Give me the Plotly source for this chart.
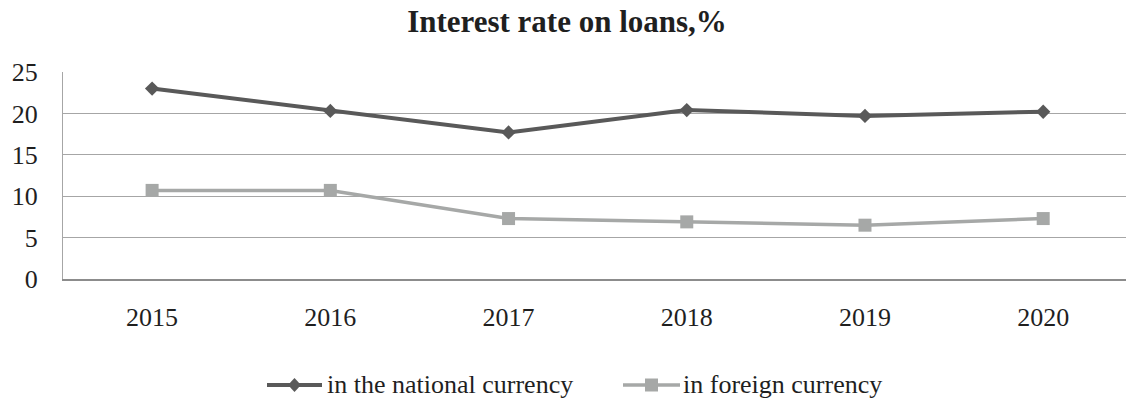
import plotly.graph_objects as go

# Loan interest rates, % per year
years = ["2015", "2016", "2017", "2018", "2019", "2020"]
national_currency = [23.0, 20.3, 17.7, 20.4, 19.7, 20.2]
foreign_currency = [10.7, 10.7, 7.3, 6.9, 6.5, 7.3]

series_names = ["in the national currency", "in foreign currency"]
series_colors = ["#595959", "#a6a8a7"]
y_ticks = [0, 5, 10, 15, 20, 25]

FONT = "Liberation Serif, Times New Roman, serif"
TEXT = "#1f1f1f"

# Figure geometry (pixels)
W, H = 1126, 401
PLOT_L, PLOT_T, PLOT_B = 63, 72, 279


def px_x(px):
    """Horizontal pixel -> paper coordinate."""
    return (px - PLOT_L) / (W - PLOT_L)


def px_y(py):
    """Vertical pixel -> paper coordinate."""
    return (PLOT_B - py) / (PLOT_B - PLOT_T)


fig = go.Figure()
fig.add_trace(go.Scatter(
    x=years, y=national_currency, name=series_names[0],
    mode="lines+markers",
    line=dict(color=series_colors[0], width=4),
    marker=dict(symbol="diamond", size=11, color=series_colors[0]),
))
fig.add_trace(go.Scatter(
    x=years, y=foreign_currency, name=series_names[1],
    mode="lines+markers",
    line=dict(color=series_colors[1], width=3.5),
    marker=dict(symbol="square", size=13, color=series_colors[1]),
))

# Legend drawn below the chart: long line sample with marker, then label
legend_y = 385
legend_items = [
    dict(x0=267, x1=322, text_x=325, width=4,
         path="M -6.5 0 L 0 7 L 6.5 0 L 0 -7 Z"),
    dict(x0=623, x1=680, text_x=681, width=3.5,
         path="M -6.5 -6.5 L 6.5 -6.5 L 6.5 6.5 L -6.5 6.5 Z"),
]
shapes = []
annotations = []
for item, name, color in zip(legend_items, series_names, series_colors):
    shapes.append(dict(
        type="line", xref="paper", yref="paper",
        x0=px_x(item["x0"]), x1=px_x(item["x1"]),
        y0=px_y(legend_y), y1=px_y(legend_y),
        line=dict(color=color, width=item["width"]),
    ))
    shapes.append(dict(
        type="path", xref="paper", yref="paper",
        xsizemode="pixel", ysizemode="pixel",
        xanchor=px_x((item["x0"] + item["x1"]) / 2), yanchor=px_y(legend_y),
        path=item["path"], fillcolor=color, line=dict(width=0),
    ))
    annotations.append(dict(
        text=name, xref="paper", yref="paper",
        x=px_x(item["text_x"]), y=px_y(legend_y - 1),
        xanchor="left", yanchor="middle", showarrow=False,
        font=dict(family=FONT, size=26, color=TEXT),
    ))

fig.update_layout(
    width=W, height=H,
    margin=dict(l=PLOT_L, r=0, t=PLOT_T, b=H - PLOT_B),
    paper_bgcolor="white", plot_bgcolor="white",
    font=dict(family=FONT, size=26, color=TEXT),
    title=dict(
        text="Interest rate on loans,%",
        font=dict(family=FONT, size=31, color=TEXT, weight="bold"),
        x=567 / W, xanchor="center", xref="container",
        y=1 - 21 / H, yanchor="middle", yref="container",
    ),
    showlegend=False,
    shapes=shapes,
    annotations=annotations,
    xaxis=dict(
        type="category",
        range=[-0.5, 5.4646],
        showgrid=False,
        showline=True, linecolor="#8c8c8c", linewidth=2,
        ticks="", ticklabelstandoff=14,
        tickfont=dict(family=FONT, size=26, color=TEXT),
        zeroline=False,
    ),
    yaxis=dict(
        range=[0, 25],
        tickvals=y_ticks,
        showgrid=True, gridcolor="#a6a6a6", gridwidth=1.3,
        showline=True, linecolor="#a6a6a6", linewidth=1.3,
        ticks="", ticklabelstandoff=19,
        tickfont=dict(family=FONT, size=26, color=TEXT),
        zeroline=False,
    ),
)

fig.write_html("out.html")
